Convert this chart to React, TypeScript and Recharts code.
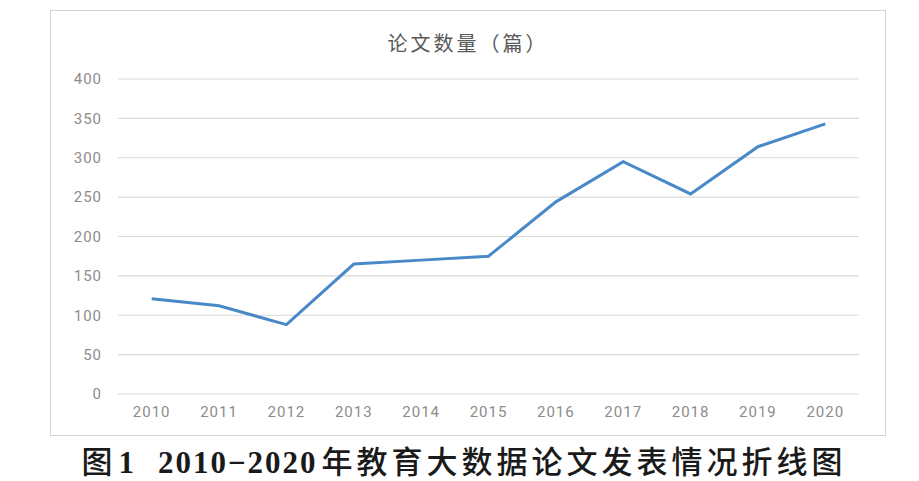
import { LineChart, Line, XAxis, YAxis, CartesianGrid } from 'recharts';

const years = ['2010', '2011', '2012', '2013', '2014', '2015', '2016', '2017', '2018', '2019', '2020'];
const paperCounts = [121, 112, 88, 165, 170, 175, 244, 295, 254, 314, 343];
const yTicks = [0, 50, 100, 150, 200, 250, 300, 350, 400];

const data = years.map((year, i) => ({ year, count: paperCounts[i] }));

const tickStyle = {
  fill: '#8c8c8c',
  fontSize: 15,
  fontFamily: 'Roboto, "Noto Sans", sans-serif',
  letterSpacing: 1,
};

const cjk = { fontFamily: '"Noto Sans CJK SC", sans-serif', fontWeight: 500 };
const serifBold = { fontFamily: '"Liberation Serif", serif', fontWeight: 700 };

export default function App() {
  return (
    <div style={{ position: 'absolute', left: 0, top: 0, width: 919, height: 481, background: '#fff' }}>
      <div
        style={{
          position: 'absolute',
          left: 50,
          top: 10,
          width: 834,
          height: 424,
          border: '1px solid #d4d4d4',
        }}
      >
        <div
          style={{
            position: 'absolute',
            left: 0,
            right: 0,
            top: 17,
            textAlign: 'center',
            fontFamily: '"Noto Sans CJK SC", sans-serif',
            fontSize: 20,
            letterSpacing: 3,
            color: '#595959',
          }}
        >
          论文数量（篇）
        </div>
        <LineChart
          width={834}
          height={424}
          data={data}
          margin={{ top: 68, right: 26, bottom: 0, left: 0 }}
        >
          <CartesianGrid vertical={false} stroke="#d9d9d9" strokeWidth={1.2} />
          <XAxis
            dataKey="year"
            axisLine={false}
            tickLine={false}
            tickSize={0}
            tickMargin={12}
            height={41}
            padding={{ left: 33.7, right: 33.7 }}
            tick={tickStyle}
            interval={0}
          />
          <YAxis
            domain={[0, 400]}
            ticks={yTicks}
            axisLine={false}
            tickLine={false}
            tickSize={0}
            tickMargin={16}
            width={67}
            tick={tickStyle}
            interval={0}
          />
          <Line
            type="linear"
            dataKey="count"
            stroke="#4a89c8"
            strokeWidth={3}
            dot={false}
            isAnimationActive={false}
          />
        </LineChart>
      </div>
      <div
        style={{
          position: 'absolute',
          left: 9,
          width: 910,
          top: 443,
          textAlign: 'center',
          fontSize: 31,
          lineHeight: '34px',
          color: '#1a1a1a',
          whiteSpace: 'nowrap',
        }}
      >
        <span style={{ ...cjk, marginRight: 6 }}>图</span>
        <span style={serifBold}>1</span>
        <span style={{ ...serifBold, marginLeft: 24, letterSpacing: 2 }}>2010−2020</span>
        <span style={{ ...cjk, marginLeft: 4, letterSpacing: 4 }}>年教育大数据论文发表情况折线图</span>
      </div>
    </div>
  );
}
